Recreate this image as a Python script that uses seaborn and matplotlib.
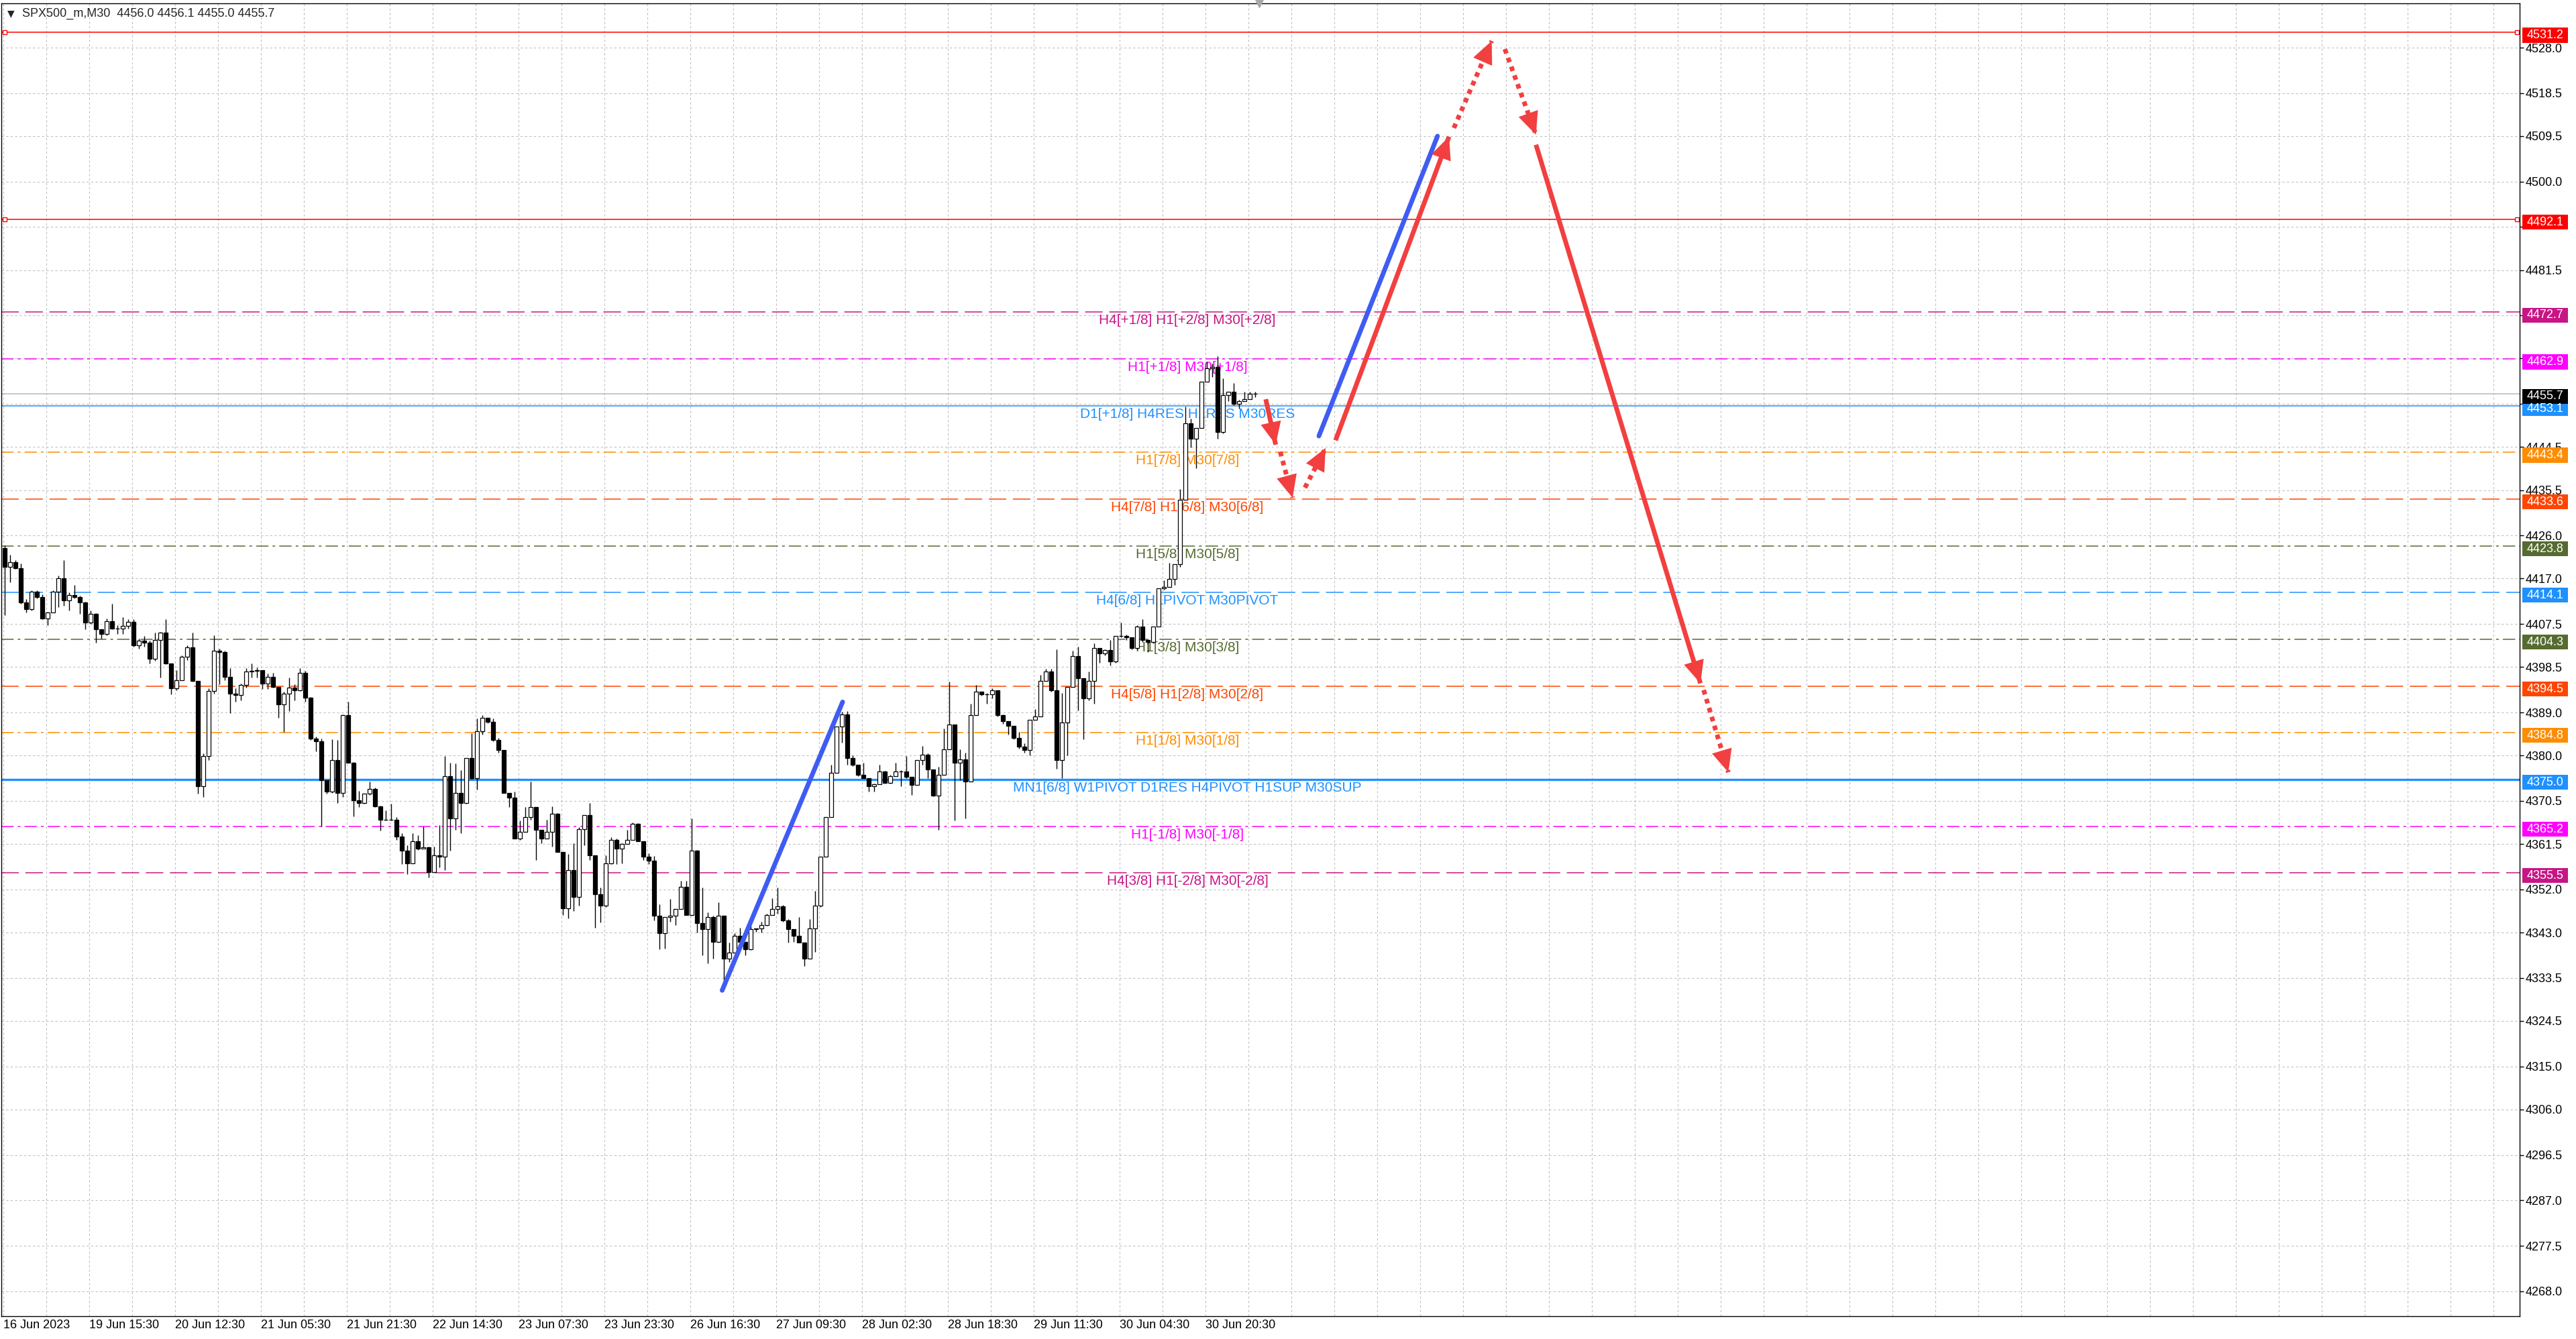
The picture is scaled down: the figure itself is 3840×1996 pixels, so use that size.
# Bibliotecas necessárias
import numpy as np
import matplotlib
matplotlib.use("Agg")
import matplotlib.pyplot as plt
import matplotlib.transforms as mtransforms
from matplotlib.patches import Rectangle
import seaborn as sns

sns.set_style("white")
plt.rcParams['font.family'] = ['Liberation Sans', 'DejaVu Sans']

# DADOS - velas M30 agrupadas duas a duas (abertura = fecho da vela anterior)
abertura_inicial = 4423.4

fecho = [
    4419.4, 4420.4, 4419.2, 4412.0, 4410.6, 4414.3, 4413.1, 4408.7, 4409.9, 4414.3,
    4417.1, 4412.4, 4413.6, 4413.1, 4412.0, 4407.8, 4409.6, 4406.4, 4405.4, 4408.1,
    4406.6, 4406.6, 4407.1, 4408.0, 4403.1, 4404.0, 4403.6, 4400.3, 4404.2, 4405.7,
    4399.3, 4394.0, 4395.8, 4400.7, 4402.6, 4395.6, 4373.6, 4379.9, 4393.5, 4401.9,
    4401.7, 4396.5, 4393.0, 4392.6, 4394.7, 4397.5, 4397.7, 4397.8, 4395.0, 4396.4,
    4394.4, 4390.7, 4393.0, 4394.2, 4393.7, 4397.3, 4392.1, 4383.5, 4383.0, 4374.8,
    4372.5,
    4379.0, 4372.2, 4388.4, 4378.5, 4370.7, 4370.1, 4372.0, 4373.0, 4369.4, 4366.6,
    4366.6, 4366.6, 4363.1, 4360.1, 4357.5, 4362.1, 4360.5, 4360.8, 4355.6, 4359.1,
    4358.9, 4375.7, 4366.8, 4372.2, 4370.1, 4379.5, 4375.3, 4385.1, 4387.9, 4387.0,
    4383.2, 4381.1, 4372.2, 4371.2, 4362.6, 4364.0, 4367.1, 4369.2, 4364.5, 4362.6,
    4364.0, 4367.8, 4359.8, 4348.1, 4356.1, 4350.5, 4364.6, 4367.6, 4359.1, 4351.0,
    4348.6, 4357.4, 4362.4, 4360.5, 4361.5, 4362.4, 4365.7, 4362.1, 4358.9, 4358.0,
    4346.5, 4342.8, 4346.3, 4346.5, 4347.9, 4352.5, 4346.7, 4360.1, 4344.9, 4343.7,
    4346.3, 4341.1, 4346.5, 4337.6, 4338.8, 4342.3, 4341.1, 4339.5, 4343.7, 4343.8,
    4344.6, 4346.7, 4347.9, 4348.5, 4345.6, 4343.7, 4342.3, 4340.9, 4337.6, 4343.9,
    4348.6, 4358.9, 4367.1, 4376.4, 4386.0, 4388.6, 4379.5, 4378.1, 4376.0, 4375.3,
    4373.6, 4374.0, 4376.6, 4374.3, 4375.7, 4376.6, 4376.6, 4375.5, 4373.9, 4379.0,
    4380.2, 4377.1, 4371.6, 4376.0, 4381.3, 4386.5, 4378.5, 4379.2, 4374.6, 4388.4,
    4393.4, 4392.8, 4392.8, 4393.7, 4388.4, 4387.2, 4386.2, 4383.7, 4381.9, 4381.2,
    4387.5, 4388.1, 4395.6, 4397.5, 4393.7, 4379.0, 4386.9, 4394.4, 4400.8, 4396.2,
    4391.9, 4395.6, 4402.5, 4401.3, 4402.0, 4399.7, 4405.0, 4405.0, 4404.7, 4402.5,
    4406.9, 4404.1, 4403.8, 4406.9, 4415.0, 4415.3, 4416.9, 4420.0, 4433.5, 4449.4,
    4446.3, 4448.5, 4458.2, 4461.0, 4461.3, 4447.6, 4455.4, 4456.0, 4453.5, 4454.1,
    4454.5, 4455.7, 4455.7,
]

maximo = [
    4423.9, 4422.0, 4420.8, 4420.1, 4412.7, 4414.5, 4414.5, 4413.7, 4410.1, 4414.5,
    4417.6, 4420.8, 4414.1, 4415.7, 4413.4, 4412.2, 4410.3, 4409.8, 4406.4, 4408.7,
    4411.7, 4407.3, 4408.9, 4408.5, 4408.5, 4404.5, 4405.0, 4404.0, 4405.7, 4405.9,
    4408.5, 4399.3, 4397.9, 4401.0, 4403.1, 4405.7, 4395.6, 4380.4, 4394.0, 4405.2,
    4402.4, 4401.9, 4398.2, 4394.0, 4395.1, 4398.2, 4399.2, 4398.4, 4397.9, 4397.2,
    4397.3, 4394.4, 4393.3, 4396.3, 4394.9, 4398.3, 4397.7, 4392.3, 4383.9, 4383.5,
    4374.8,
    4383.4, 4383.2, 4388.6, 4391.2, 4378.6, 4372.6, 4372.0, 4374.6, 4373.3, 4369.5,
    4368.5, 4369.9, 4367.1, 4363.8, 4361.2, 4363.8, 4363.3, 4365.2, 4361.0, 4361.0,
    4365.5, 4379.9, 4378.5, 4378.3, 4376.9, 4379.5, 4384.6, 4387.7, 4388.4, 4387.9,
    4387.7, 4383.7, 4381.2, 4372.2, 4372.5, 4366.4, 4369.2, 4374.6, 4369.2, 4364.5,
    4366.6, 4369.4, 4368.0, 4359.8, 4359.4, 4361.7, 4365.0, 4367.6, 4370.1, 4359.2,
    4352.4, 4359.1, 4362.9, 4362.7, 4361.7, 4364.5, 4366.0, 4365.8, 4362.1, 4359.6,
    4359.0, 4348.9, 4346.3, 4350.0, 4347.9, 4353.8, 4353.8, 4366.9, 4360.3, 4352.4,
    4347.2, 4346.5, 4349.3, 4346.5, 4340.9, 4342.8, 4344.0, 4341.1, 4344.6, 4343.9,
    4345.3, 4347.0, 4350.2, 4352.4, 4348.7, 4345.8, 4343.7, 4346.3, 4340.9, 4345.8,
    4351.7, 4358.9, 4367.1, 4378.1, 4386.0, 4389.1, 4389.3, 4380.0, 4378.1, 4378.5,
    4375.3, 4374.1, 4378.1, 4376.8, 4376.0, 4378.5, 4376.9, 4379.9, 4375.5, 4379.0,
    4382.0, 4380.4, 4377.1, 4377.6, 4385.6, 4395.4, 4386.5, 4381.3, 4380.6, 4390.9,
    4394.7, 4393.4, 4393.1, 4394.1, 4393.7, 4388.6, 4387.2, 4386.2, 4385.0, 4382.5,
    4387.5, 4389.7, 4396.9, 4398.1, 4398.1, 4402.2, 4393.1, 4394.4, 4401.9, 4402.8,
    4396.2, 4397.5, 4403.4, 4402.5, 4402.2, 4404.1, 4405.0, 4407.8, 4405.3, 4404.7,
    4407.2, 4408.5, 4404.1, 4406.9, 4415.0, 4416.6, 4420.3, 4420.0, 4435.7, 4452.9,
    4450.4, 4448.5, 4458.2, 4462.3, 4461.9, 4463.5, 4458.8, 4456.0, 4457.9, 4454.4,
    4456.0, 4456.0, 4456.1,
]

minimo = [
    4409.4, 4416.2, 4419.0, 4411.7, 4409.9, 4410.3, 4412.9, 4408.5, 4407.3, 4409.9,
    4411.0, 4411.3, 4410.3, 4412.9, 4409.6, 4406.4, 4407.5, 4403.6, 4404.5, 4405.2,
    4406.4, 4405.4, 4405.4, 4406.6, 4402.8, 4402.4, 4402.8, 4399.3, 4399.8, 4396.3,
    4399.1, 4392.8, 4393.7, 4395.8, 4400.0, 4395.4, 4372.0, 4371.3, 4379.0, 4393.0,
    4394.9, 4395.8, 4388.8, 4391.2, 4391.6, 4394.2, 4396.3, 4396.3, 4393.9, 4393.9,
    4394.2, 4387.9, 4384.9, 4389.3, 4391.6, 4393.5, 4391.2, 4383.2, 4380.9, 4365.2,
    4372.0,
    4372.2, 4370.1, 4371.3, 4378.5, 4367.3, 4369.2, 4369.9, 4371.8, 4369.2, 4364.3,
    4366.4, 4366.4, 4362.3, 4357.3, 4355.2, 4357.5, 4360.3, 4360.5, 4354.5, 4355.6,
    4356.6, 4356.1, 4360.1, 4364.5, 4363.8, 4369.9, 4375.0, 4372.9, 4384.4, 4386.7,
    4383.0, 4380.6, 4372.2, 4369.2, 4362.6, 4362.4, 4364.0, 4366.6, 4358.2, 4361.7,
    4362.6, 4361.0, 4359.8, 4346.7, 4346.0, 4347.5, 4348.6, 4361.2, 4358.2, 4344.0,
    4345.1, 4348.4, 4357.3, 4357.3, 4357.5, 4361.5, 4362.4, 4362.1, 4358.2, 4357.3,
    4345.6, 4339.5, 4339.7, 4345.3, 4344.6, 4347.9, 4346.7, 4346.5, 4343.0, 4338.3,
    4336.5, 4337.6, 4340.9, 4332.5, 4336.9, 4338.8, 4341.1, 4338.3, 4339.3, 4343.2,
    4343.0, 4344.4, 4346.7, 4347.0, 4345.3, 4340.9, 4341.1, 4340.9, 4336.0, 4337.6,
    4339.0, 4348.4, 4358.9, 4367.1, 4376.4, 4382.7, 4378.1, 4377.8, 4375.7, 4375.3,
    4372.5, 4372.5, 4374.0, 4374.1, 4374.1, 4375.7, 4373.6, 4375.3, 4371.8, 4373.9,
    4378.1, 4375.3, 4371.5, 4364.5, 4376.0, 4381.3, 4366.4, 4374.8, 4366.9, 4374.6,
    4388.4, 4392.5, 4390.9, 4391.9, 4388.1, 4386.6, 4384.4, 4383.4, 4381.5, 4380.6,
    4380.0, 4387.8, 4388.1, 4395.6, 4393.4, 4377.2, 4375.3, 4380.0, 4394.4, 4389.4,
    4383.4, 4391.6, 4390.9, 4399.4, 4401.0, 4398.8, 4399.4, 4404.7, 4404.1, 4402.2,
    4402.2, 4403.8, 4401.6, 4403.5, 4406.9, 4414.7, 4415.3, 4415.6, 4419.4, 4433.5,
    4444.4, 4440.1, 4448.5, 4458.2, 4459.1, 4446.3, 4447.3, 4454.1, 4453.2, 4452.6,
    4454.1, 4454.5, 4455.0,
]

# Níveis (preço e texto)
niveis = [4472.7, 4462.9, 4453.1, 4443.4, 4433.6, 4423.8, 4414.1,
          4404.3, 4394.5, 4384.8, 4375.0, 4365.2, 4355.5]
niveis_texto = [
    "H4[+1/8] H1[+2/8] M30[+2/8]",
    "H1[+1/8] M30[+1/8]",
    "D1[+1/8] H4RES H1RES M30RES",
    "H1[7/8] M30[7/8]",
    "H4[7/8] H1[6/8] M30[6/8]",
    "H1[5/8] M30[5/8]",
    "H4[6/8] H1PIVOT M30PIVOT",
    "H1[3/8] M30[3/8]",
    "H4[5/8] H1[2/8] M30[2/8]",
    "H1[1/8] M30[1/8]",
    "MN1[6/8] W1PIVOT D1RES H4PIVOT H1SUP M30SUP",
    "H1[-1/8] M30[-1/8]",
    "H4[3/8] H1[-2/8] M30[-2/8]",
]

linhas_vermelhas = [4531.2, 4492.1]
preco_atual = 4455.7
cabecalho = "SPX500_m,M30  4456.0 4456.1 4455.0 4455.7"

# Eixo do preço (marcas tapadas pelas caixas ficam sem texto)
marcas_preco = [4528.0, 4518.5, 4509.5, 4500.0, 4490.5, 4481.5, 4472.0, 4463.0,
                4453.5, 4444.5, 4435.5, 4426.0, 4417.0, 4407.5, 4398.5, 4389.0,
                4380.0, 4370.5, 4361.5, 4352.0, 4343.0, 4333.5, 4324.5, 4315.0,
                4306.0, 4296.5, 4287.0, 4277.5, 4268.0]
marcas_tapadas = [4490.5, 4472.0, 4463.0, 4453.5]

# Eixo do tempo (índice da barra M30)
marcas_barra = [0, 32, 64, 96, 128, 160, 192, 224, 256, 288, 320, 352, 384, 416, 448]
marcas_texto = ["16 Jun 2023", "19 Jun 15:30", "20 Jun 12:30", "21 Jun 05:30",
                "21 Jun 21:30", "22 Jun 14:30", "23 Jun 07:30", "23 Jun 23:30",
                "26 Jun 16:30", "27 Jun 09:30", "28 Jun 02:30", "28 Jun 18:30",
                "29 Jun 11:30", "30 Jun 04:30", "30 Jun 20:30"]

# Linhas de tendência azuis (barra, preço)
azul_x0 = [267.8, 490.2]
azul_y0 = [4330.9, 4446.8]
azul_x1 = [312.7, 534.4]
azul_y1 = [4391.2, 4509.5]

# Setas vermelhas (barra, preço)
seta_x0 = [470.4, 475.8, 485.0, 496.4, 540.5, 559.5, 571.1, 633.6]
seta_y0 = [4454.5, 4443.5, 4436.0, 4445.9, 4511.2, 4527.7, 4507.7, 4393.7]
seta_x1 = [474.1, 480.4, 492.7, 538.7, 554.6, 571.1, 632.4, 642.8]
seta_y1 = [4445.0, 4433.9, 4444.3, 4509.4, 4529.4, 4509.8, 4395.1, 4376.5]

# ESTILOS
tracejado = (0, (17, 6.5))
traco_ponto = (0, (12, 4, 2.6, 4))
estilo_niveis = [
    ('#C71585', tracejado, 1.1), ('#FF00FF', traco_ponto, 1.1), ('#1E90FF', '-', 1.1),
    ('#FF8C00', traco_ponto, 1.1), ('#FF4500', tracejado, 1.1), ('#556B2F', traco_ponto, 1.1),
    ('#1E90FF', tracejado, 1.1), ('#556B2F', traco_ponto, 1.1), ('#FF4500', tracejado, 1.1),
    ('#FF8C00', traco_ponto, 1.1), ('#1E90FF', '-', 2.4), ('#FF00FF', traco_ponto, 1.1),
    ('#C71585', tracejado, 1.1),
]
seta_pontilhada = [False, True, True, False, True, True, False, True]
cor_seta = '#F23F3F'
cor_azul = '#3F5CF2'
cor_grelha = '#C0C0C0'
x_min, x_max = -0.825, 937.7
y_min, y_max = 4262.78, 4537.26
x_texto_niveis = 441.2

fecho = np.array(fecho)
maximo = np.array(maximo)
minimo = np.array(minimo)
assert len(fecho) == len(maximo) == len(minimo)
abertura = np.r_[abertura_inicial, fecho[:-1]]
x = np.arange(len(fecho)) * 2 + 0.5
sobe = fecho >= abertura

fig = plt.figure(figsize=(38.4, 19.96), dpi=100)
ax = fig.add_axes([2 / 3840, 34 / 1996, 3754 / 3840, 1957 / 1996])
ax.set_xlim(x_min, x_max)
ax.set_ylim(y_min, y_max)

# Grelha
ax.set_yticks(marcas_preco)
ax.grid(axis='y', color=cor_grelha, ls=(0, (3, 3)), lw=0.8)
ax.vlines(np.arange(0, x_max, 16), 0, 1, transform=ax.get_xaxis_transform(),
          color=cor_grelha, ls=(0, (3, 3)), lw=0.8, zorder=0.5)

# Níveis horizontais
for preco, texto, (cor, ls, lw) in zip(niveis, niveis_texto, estilo_niveis):
    ax.axhline(preco, color=cor, ls=ls, lw=lw, zorder=1)
    ax.annotate(texto, (x_texto_niveis, preco), xytext=(0, -2), textcoords='offset points',
                ha='center', va='top', fontsize=15, color=cor, zorder=2)
for preco in linhas_vermelhas:
    ax.axhline(preco, color='red', lw=1.1, zorder=1)
    ax.plot([x_min + 1.2, x_max - 0.9], [preco, preco], ls='none', marker='s', ms=4,
            mfc='white', mec='red', mew=1, zorder=2, clip_on=False)
ax.axhline(preco_atual, color='#B8B8B8', lw=1.1, zorder=1)

# Velas
ax.vlines(x, minimo, maximo, color='black', lw=1.0, zorder=3)
ax.bar(x[sobe], (fecho - abertura)[sobe], bottom=abertura[sobe], width=1.4,
       facecolor='white', edgecolor='black', lw=0.9, zorder=4)
ax.bar(x[~sobe], (fecho - abertura)[~sobe], bottom=abertura[~sobe], width=1.4,
       facecolor='black', edgecolor='black', lw=0.9, zorder=4)

# Linhas azuis
for xa, ya, xb, yb in zip(azul_x0, azul_y0, azul_x1, azul_y1):
    ax.plot([xa, xb], [ya, yb], color=cor_azul, lw=5, solid_capstyle='round', zorder=6)

# Setas vermelhas
for xa, ya, xb, yb, pont in zip(seta_x0, seta_y0, seta_x1, seta_y1, seta_pontilhada):
    ls = (0, (1, 1)) if pont else '-'
    ax.plot([xa, xb], [ya, yb], color=cor_seta, lw=5, ls=ls, dash_capstyle='butt',
            solid_capstyle='butt', zorder=6)
    ax.annotate('', xy=(xb, yb), xytext=(xa + 0.9 * (xb - xa), ya + 0.9 * (yb - ya)),
                arrowprops=dict(arrowstyle='-|>,head_length=1.1,head_width=0.5',
                                mutation_scale=22, color=cor_seta, lw=0,
                                shrinkA=0, shrinkB=0), zorder=7)

# Marcador do deslocamento do gráfico
ax.plot([len(fecho) * 2], [1.0], transform=ax.get_xaxis_transform(), marker='v', ms=8,
        color='#A8A8A8', ls='none', clip_on=False, zorder=8)

# Eixos
ax.yaxis.tick_right()
ax.set_yticklabels(["" if v in marcas_tapadas else f"{v:.1f}" for v in marcas_preco])
ax.tick_params(axis='y', direction='out', length=4, width=1, pad=2.5,
               labelsize=13, colors='black')
ax.set_xticks(marcas_barra, marcas_texto, ha='left')
ax.tick_params(axis='x', direction='out', length=2, width=1, pad=1.5,
               labelsize=13, colors='black')
for lado in ax.spines.values():
    lado.set_color('black')
    lado.set_linewidth(1)

# Caixas de preço à direita
trans = mtransforms.blended_transform_factory(ax.transAxes, ax.transData)
caixas = list(zip(linhas_vermelhas, ['#FF0000'] * 2)) + \
    [(p, e[0]) for p, e in zip(niveis, estilo_niveis)] + [(preco_atual, 'black')]
for preco, cor in caixas:
    ax.add_patch(Rectangle((1.0011, preco - 0.6 - 1.55), 0.0181, 3.1, transform=trans,
                           facecolor=cor, edgecolor='none', clip_on=False, zorder=9))
    ax.text(1.0102, preco - 0.6, f"{preco:.1f}", transform=trans, ha='center',
            va='center', fontsize=13, color='white', clip_on=False, zorder=10)

# Cabeçalho
fig.text(0.0028, 0.9898, "▼", fontsize=10, va='center', family=['DejaVu Sans'])
fig.text(0.0086, 0.9898, cabecalho, fontsize=13, va='center')

fig.savefig("out.png", dpi=100)
